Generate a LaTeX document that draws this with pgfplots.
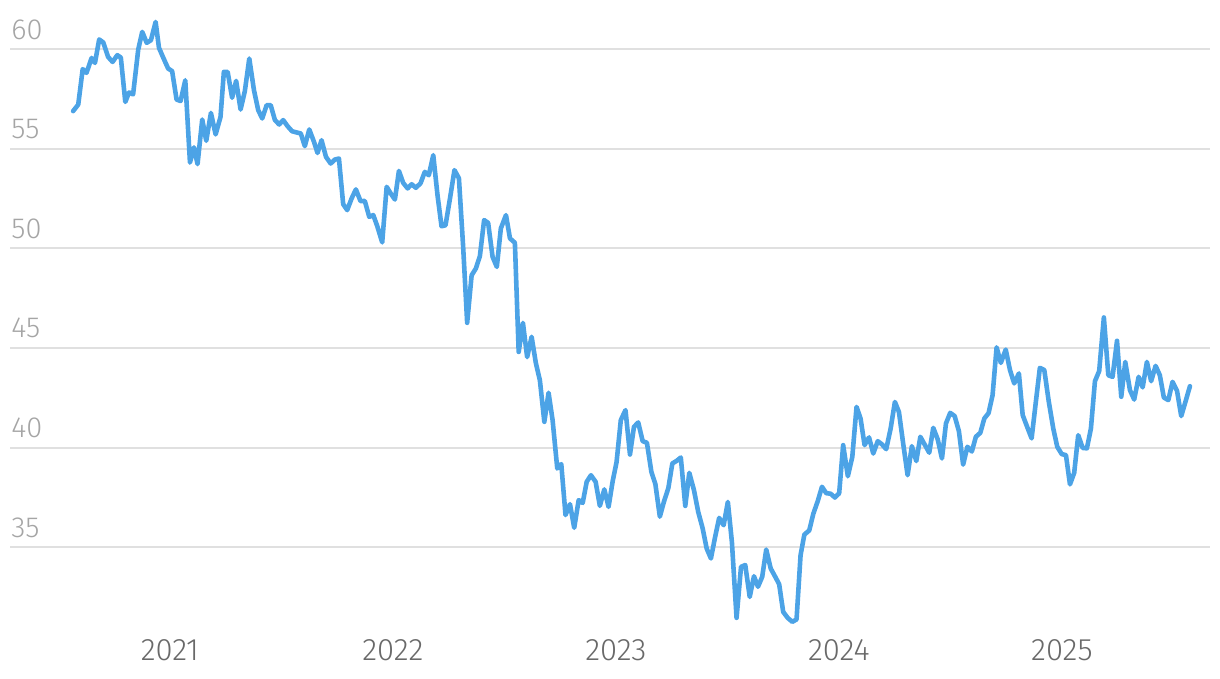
\documentclass[border=0pt]{standalone}
\usepackage{fontspec}
\setmainfont{Fira Sans}[UprightFont=* Light]
\usepackage{pgfplots}
\pgfplotsset{compat=1.18}
\usetikzlibrary{calc}

\definecolor{linecol}{RGB}{76,163,230}
\definecolor{gridcol}{RGB}{224,224,224}
\definecolor{ylab}{RGB}{165,165,165}
\definecolor{xlab}{RGB}{105,105,105}

% weekly closes, x in decimal years
\pgfplotstableread{
x y
2020.566 56.89
2020.589 57.22
2020.609 59.00
2020.626 58.81
2020.649 59.56
2020.664 59.31
2020.683 60.49
2020.701 60.34
2020.723 59.61
2020.743 59.36
2020.764 59.70
2020.780 59.58
2020.800 57.35
2020.817 57.83
2020.835 57.73
2020.858 59.98
2020.876 60.87
2020.896 60.32
2020.915 60.45
2020.936 61.37
2020.951 60.07
2020.970 59.58
2020.992 59.03
2021.010 58.90
2021.030 57.47
2021.048 57.40
2021.069 58.44
2021.090 54.31
2021.108 55.07
2021.124 54.23
2021.145 56.47
2021.163 55.40
2021.184 56.80
2021.205 55.72
2021.227 56.60
2021.242 58.86
2021.259 58.86
2021.279 57.56
2021.297 58.41
2021.317 56.97
2021.336 57.89
2021.356 59.53
2021.377 57.94
2021.396 56.94
2021.414 56.52
2021.434 57.19
2021.452 57.19
2021.471 56.44
2021.490 56.22
2021.508 56.44
2021.528 56.13
2021.548 55.88
2021.568 55.82
2021.587 55.77
2021.605 55.13
2021.625 55.97
2021.646 55.35
2021.662 54.79
2021.680 55.43
2021.700 54.59
2021.721 54.26
2021.740 54.46
2021.758 54.51
2021.777 52.22
2021.795 51.92
2021.815 52.51
2021.834 52.96
2021.855 52.37
2021.874 52.38
2021.894 51.58
2021.912 51.67
2021.930 51.11
2021.952 50.30
2021.972 53.09
2021.990 52.76
2022.009 52.45
2022.027 53.89
2022.046 53.29
2022.066 53.01
2022.084 53.22
2022.103 53.04
2022.124 53.27
2022.143 53.84
2022.161 53.67
2022.181 54.68
2022.200 52.67
2022.218 51.11
2022.236 51.16
2022.256 52.51
2022.276 53.93
2022.296 53.52
2022.315 50.08
2022.333 46.26
2022.353 48.65
2022.372 48.99
2022.390 49.61
2022.409 51.42
2022.427 51.28
2022.447 49.57
2022.466 49.07
2022.484 51.00
2022.507 51.67
2022.525 50.50
2022.547 50.28
2022.564 44.80
2022.583 46.26
2022.602 44.54
2022.622 45.56
2022.641 44.24
2022.659 43.38
2022.679 41.29
2022.698 42.75
2022.716 41.38
2022.737 38.95
2022.755 39.17
2022.774 36.61
2022.794 37.16
2022.813 35.97
2022.833 37.36
2022.851 37.22
2022.869 38.28
2022.888 38.61
2022.909 38.28
2022.928 37.07
2022.948 37.90
2022.967 37.02
2022.985 38.28
2023.003 39.28
2023.022 41.38
2023.043 41.88
2023.063 39.65
2023.081 41.04
2023.100 41.26
2023.120 40.32
2023.139 40.24
2023.159 38.78
2023.177 38.16
2023.197 36.53
2023.215 37.27
2023.235 37.96
2023.253 39.20
2023.272 39.33
2023.291 39.50
2023.311 37.07
2023.329 38.73
2023.350 37.86
2023.369 36.77
2023.389 35.94
2023.407 34.93
2023.426 34.43
2023.445 35.52
2023.463 36.47
2023.483 36.10
2023.502 37.27
2023.520 35.27
2023.541 31.45
2023.561 34.01
2023.580 34.10
2023.600 32.50
2023.619 33.54
2023.637 33.01
2023.656 33.51
2023.674 34.88
2023.694 33.93
2023.713 33.54
2023.732 33.14
2023.750 31.75
2023.770 31.45
2023.791 31.25
2023.810 31.37
2023.828 34.60
2023.845 35.63
2023.867 35.84
2023.885 36.67
2023.905 37.31
2023.924 38.03
2023.943 37.71
2023.963 37.68
2023.982 37.49
2024.001 37.70
2024.019 40.12
2024.040 38.56
2024.060 39.53
2024.079 42.04
2024.097 41.46
2024.115 40.12
2024.135 40.51
2024.154 39.70
2024.174 40.32
2024.193 40.16
2024.212 39.92
2024.232 40.96
2024.251 42.29
2024.269 41.79
2024.288 40.21
2024.308 38.61
2024.327 40.07
2024.347 39.32
2024.365 40.54
2024.386 40.12
2024.405 39.74
2024.423 40.99
2024.443 40.41
2024.462 39.45
2024.480 41.21
2024.499 41.74
2024.519 41.58
2024.538 40.82
2024.557 39.14
2024.576 40.04
2024.596 39.80
2024.614 40.54
2024.634 40.74
2024.652 41.46
2024.671 41.73
2024.689 42.63
2024.707 45.03
2024.726 44.25
2024.748 44.92
2024.767 43.89
2024.786 43.22
2024.807 43.72
2024.824 41.63
2024.844 41.04
2024.864 40.46
2024.883 42.29
2024.901 44.00
2024.921 43.89
2024.940 42.38
2024.961 40.96
2024.979 40.04
2024.999 39.67
2025.018 39.62
2025.036 38.15
2025.055 38.73
2025.073 40.62
2025.093 39.98
2025.112 39.96
2025.130 40.96
2025.148 43.33
2025.167 43.84
2025.188 46.53
2025.208 43.63
2025.227 43.55
2025.247 45.36
2025.266 42.55
2025.284 44.30
2025.305 42.88
2025.324 42.41
2025.344 43.55
2025.362 43.02
2025.381 44.30
2025.400 43.33
2025.420 44.10
2025.439 43.63
2025.457 42.51
2025.477 42.38
2025.496 43.30
2025.516 42.85
2025.535 41.58
2025.556 42.38
2025.574 43.08
}\prices

\begin{document}
\begin{tikzpicture}
\begin{axis}[
    scale only axis,
    width=600pt,
    height=314pt,
    xmin=2020.283, xmax=2025.664,
    ymin=30.93, ymax=62.46,
    axis line style={draw=none},
    major tick length=0pt,
    xtick={2021,2022,2023,2024,2025},
    xticklabels={2021,2022,2023,2024,2025},
    ytick={35,40,45,50,55,60},
    ymajorgrids,
    grid style={gridcol, line width=1pt},
    /pgf/number format/assume math mode=true,
    yticklabel style={ylab, font=\fontsize{14.5}{17}\selectfont, anchor=base west, inner sep=0pt, xshift=0.5pt, yshift=5pt},
    xticklabel style={xlab, font=\fontsize{15.5}{18}\selectfont, anchor=north, inner sep=0pt, yshift=-5.5pt},
    clip=false,
]
\addplot[linecol, line width=2.3pt, line join=round, line cap=round] table[x=x, y=y] {\prices};
\end{axis}
\path ($(current axis.south west)+(-5pt,-25pt)$) rectangle ($(current axis.north east)+(5pt,0pt)$);
\end{tikzpicture}
\end{document}
